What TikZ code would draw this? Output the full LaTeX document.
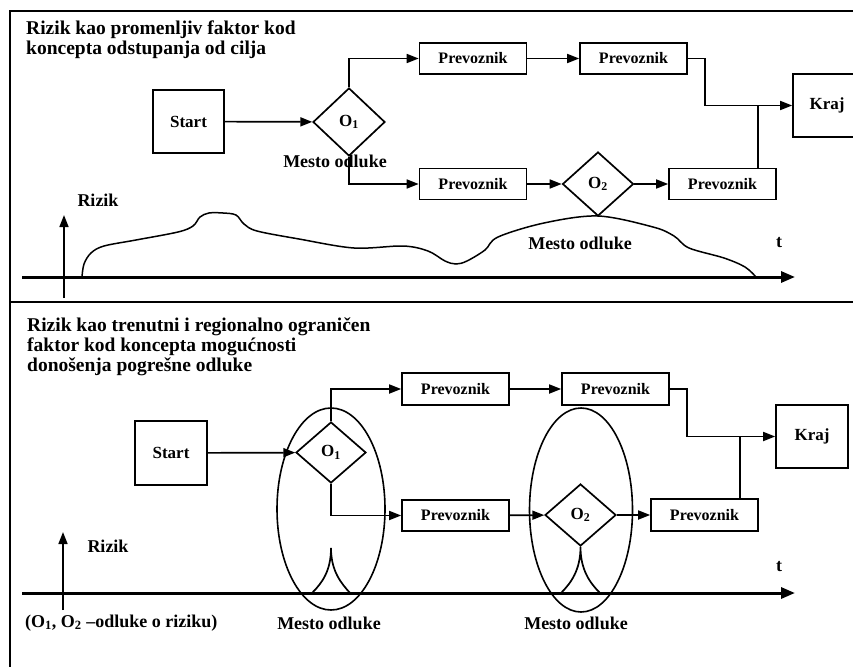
\documentclass[tikz,border=0pt]{standalone}
\usepackage{fontspec}
\setmainfont{Liberation Serif}
\usetikzlibrary{shapes.geometric,arrows.meta}

\tikzset{
  procbox/.style={draw, line width=1.7pt, inner sep=0pt, minimum width=107pt, minimum height=31pt,
    font=\fontsize{16}{18}\selectfont\bfseries},
  bigbox/.style={procbox, minimum width=71pt, minimum height=63pt,
    font=\fontsize{17}{19}\selectfont\bfseries},
  decide/.style={draw, diamond, line width=1.7pt, inner sep=0pt, minimum width=71pt, minimum height=64pt,
    font=\fontsize{17}{19}\selectfont\bfseries},
  zone/.style={draw, ellipse, line width=1.6pt, inner sep=0pt},
  flowline/.style={line width=1.7pt},
  flowarrow/.style={flowline, ->},
  riskaxis/.style={line width=3pt, ->, >={Triangle[length=14pt,width=11pt]}},
  lbl/.style={inner sep=0pt, font=\fontsize{18}{20}\selectfont\bfseries},
  headline/.style={inner sep=0pt, font=\fontsize{19.5}{20}\selectfont\bfseries},
}

\begin{document}
\begin{tikzpicture}[x=1pt, y=-1pt, >={Triangle[length=12pt,width=9pt]}]
    \clip (0,0) rectangle (853,666);

    % Frame of both panels
    \draw[line width=2pt] (10,670) -- (10,11) -- (860,11);
    \draw[line width=2pt] (10,302) -- (860,302);

    % ---------- upper panel ----------
    \node[headline, anchor=west, align=left] (titleA) at (26,40)
        {Rizik kao promenljiv faktor kod\\koncepta odstupanja od cilja};

    \node[bigbox] (startA) at (188.5,121.5) {Start};
    \node[decide, minimum width=72pt, minimum height=68pt] (oneA) at (349,122) {O\textsubscript{1}};
    \node[lbl] (placeA) at (335,161) {Mesto odluke};
    \node[procbox] (carA1) at (473,58.5) {Prevoznik};
    \node[procbox] (carA2) at (633.5,58.5) {Prevoznik};
    \node[procbox] (carA3) at (473,184) {Prevoznik};
    \node[decide] (twoA) at (598,184) {O\textsubscript{2}};
    \node[procbox] (carA4) at (722.5,184) {Prevoznik};
    \node[bigbox, minimum width=68pt] (endA) at (827,105.5) {Kraj};
    \coordinate (joinA) at (758,105.5);

    % Connectors
    \draw[flowarrow] (startA) -- (oneA);
    \draw[flowarrow] (oneA.north) |- (carA1);
    \draw[flowarrow] (carA1) -- (carA2);
    \draw[flowarrow] (oneA.south) |- (carA3);
    \draw[flowarrow] (carA3) -- (twoA);
    \draw[flowarrow] (twoA) -- (carA4);
    \draw[flowarrow] (carA2.east) -- ++(17,0) |- (endA.west);
    \draw[flowline] (carA4.north -| joinA) -- (joinA);

    % Risk axes
    \coordinate (tA0) at (22,277);
    \coordinate (tA1) at (795,277);
    \coordinate (rA0) at (64,298);
    \coordinate (rA1) at (64,215);
    \draw[riskaxis] (tA0) -- (tA1);
    \draw[flowarrow] (rA0) -- (rA1);
    \node[lbl] (riskA) at (98,200) {Rizik};
    \node[lbl] (timeA) at (779,243) {t};
    \node[lbl] (placeA2) at (580,243) {Mesto odluke};

    % Risk varies over the whole path
    \draw[line width=1.5pt] plot[smooth, tension=0.55] coordinates {
        (82,277) (84,264) (91,253) (104,246) (136,240) (178,232) (193,226)
        (200,217) (209,213) (223,213) (236,215) (244,224) (257,231) (299,239)
        (354,248) (403,246) (428,251) (445,261) (456,264) (467,261) (485,250)
        (498,237) (544,223) (598,216) (653,227) (674,236) (689,248) (724,258)
        (745,267) (756,277)};

    % ---------- lower panel ----------
    \node[headline, anchor=west, align=left] (titleB) at (27,347)
        {Rizik kao trenutni i regionalno ograničen\\faktor kod koncepta mogućnosti\\donošenja pogrešne odluke};

    \node[bigbox, minimum width=72pt, minimum height=64pt] (startB) at (171,453) {Start};
    \node[decide, minimum width=70pt, minimum height=61pt] (oneB) at (331,452.5) {O\textsubscript{1}};
    \node[procbox, minimum height=32pt] (carB1) at (455.5,389) {Prevoznik};
    \node[procbox, minimum height=32pt] (carB2) at (615.5,389) {Prevoznik};
    \node[procbox] (carB3) at (455.5,515.5) {Prevoznik};
    \node[decide, minimum height=62pt] (twoB) at (580.5,515) {O\textsubscript{2}};
    \node[procbox, minimum height=32pt] (carB4) at (704.5,515) {Prevoznik};
    \node[bigbox, minimum width=72pt] (endB) at (812,436.5) {Kraj};
    \coordinate (joinB) at (740,436.5);

    % Connectors
    \draw[flowarrow] (startB) -- (oneB);
    \draw[flowarrow] (oneB.north) |- (carB1);
    \draw[flowarrow] (carB1) -- (carB2);
    \draw[flowarrow] (oneB.south) |- (carB3);
    \draw[flowarrow] (carB3) -- (twoB);
    \draw[flowarrow] (twoB) -- (carB4);
    \draw[flowarrow] (carB2.east) -- ++(17,0) |- (endB.west);
    \draw[flowline] (carB4.north -| joinB) -- (joinB);

    % Decision regions
    \node[zone, minimum width=108pt, minimum height=202pt] (zoneB1) at (331,509) {};
    \node[zone, minimum width=103pt, minimum height=204pt] (zoneB2) at (581,510) {};

    % Risk axes
    \coordinate (tB0) at (22,593);
    \coordinate (tB1) at (795,593);
    \coordinate (rB0) at (63,610);
    \coordinate (rB1) at (63,532);
    \draw[riskaxis] (tB0) -- (tB1);
    \draw[flowarrow] (rB0) -- (rB1);
    \node[lbl] (riskB) at (108,546) {Rizik};
    \node[lbl] (timeB) at (779,567) {t};

    % Risk only near the decisions
    \coordinate (peakB1) at (331,548);
    \draw[flowline] (312,593) .. controls (322,583) and (331,571) .. (peakB1)
        .. controls (331,571) and (341,583) .. (350,593);
    \draw[flowline] (561,593) .. controls (571,583) and (580.5,570) .. (twoB.south)
        .. controls (580.5,570) and (590,583) .. (600,593);

    \node[lbl, anchor=west] (noteB) at (25,623) {(O\textsubscript{1}, O\textsubscript{2} –odluke o riziku)};
    \node[lbl] (placeB1) at (329,623) {Mesto odluke};
    \node[lbl] (placeB2) at (576,623) {Mesto odluke};
\end{tikzpicture}
\end{document}
